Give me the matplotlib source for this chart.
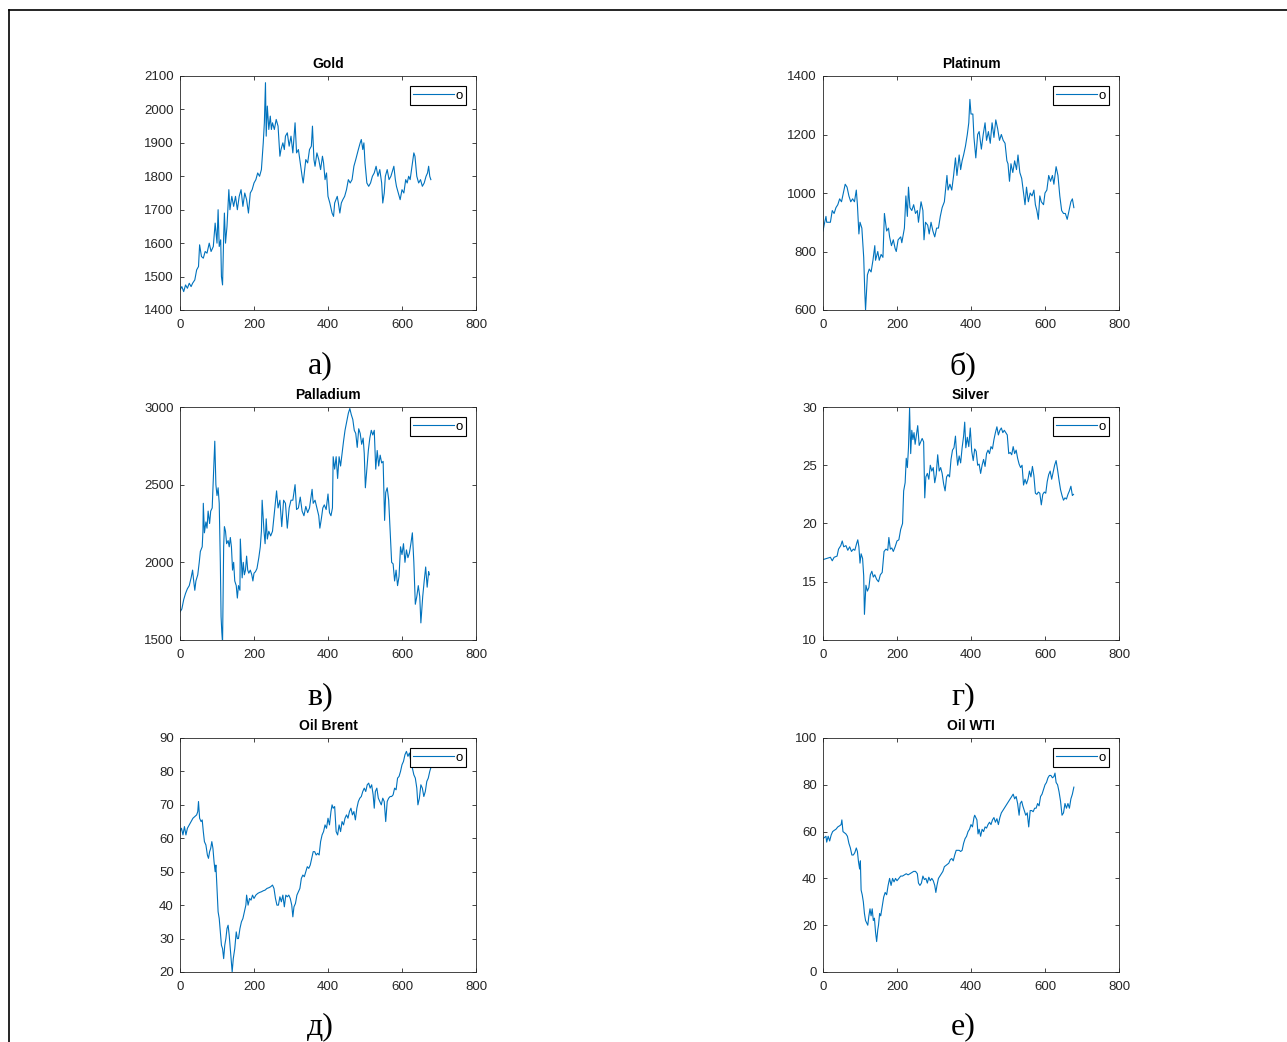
import matplotlib
matplotlib.use("Agg")
import matplotlib.pyplot as plt
from matplotlib.lines import Line2D

# ---- data (index, price) ----
gold_x = [0, 5, 10, 15, 20, 25, 30, 34, 40, 45, 50, 53, 58, 63, 68, 73, 79, 84, 90, 95, 100, 103, 106, 110,
          112, 115, 118, 120, 123, 127, 132, 135, 140, 145, 150, 155, 160, 165, 170, 175, 180, 185, 190, 195,
          200, 205, 210, 215, 220, 225, 228, 231, 233, 236, 240, 244, 247, 250, 255, 260, 265, 270, 273, 278,
          282, 285, 290, 295, 300, 305, 311, 315, 320, 325, 330, 333, 340, 345, 350, 355, 358, 362, 365, 370,
          375, 380, 385, 388, 392, 396, 400, 405, 411, 415, 418, 425, 428, 432, 436, 440, 445, 450, 455, 460,
          465, 470, 475, 482, 487, 490, 494, 497, 500, 505, 510, 515, 520, 525, 530, 535, 540, 545, 548, 552,
          555, 560, 565, 570, 578, 582, 585, 590, 595, 600, 605, 610, 614, 618, 622, 627, 632, 635, 640, 645,
          650, 655, 660, 665, 669, 672, 675, 678]
gold_y = [1460, 1470, 1455, 1475, 1465, 1480, 1470, 1480, 1490, 1520, 1530, 1595, 1560, 1555, 1575, 1570, 1600, 1575, 1590, 1660, 1600, 1700, 1590, 1610,
          1500, 1475, 1620, 1690, 1600, 1650, 1760, 1700, 1740, 1710, 1740, 1700, 1740, 1760, 1710, 1750, 1730, 1690, 1750, 1760,
          1780, 1790, 1810, 1800, 1820, 1900, 1960, 2080, 1920, 2010, 1940, 1980, 1940, 1960, 1940, 1970, 1950, 1860, 1880, 1900,
          1880, 1920, 1930, 1890, 1920, 1870, 1960, 1870, 1880, 1840, 1800, 1780, 1850, 1840, 1880, 1890, 1950, 1850, 1830, 1870,
          1850, 1820, 1860, 1840, 1790, 1810, 1740, 1720, 1690, 1680, 1720, 1740, 1720, 1690, 1720, 1730, 1740, 1760, 1790, 1780,
          1790, 1830, 1850, 1880, 1900, 1910, 1880, 1900, 1840, 1780, 1770, 1780, 1800, 1810, 1830, 1800, 1820, 1780, 1720, 1750,
          1800, 1820, 1790, 1800, 1830, 1790, 1770, 1750, 1730, 1760, 1750, 1790, 1780, 1800, 1790, 1830, 1870, 1860, 1800, 1780,
          1790, 1770, 1780, 1800, 1810, 1830, 1800, 1790]

platinum_x = [0, 3, 8, 10, 20, 25, 30, 35, 40, 45, 50, 55, 60, 65, 70, 75, 80, 85, 90, 93, 97, 100, 105, 110, 113, 115,
              120, 125, 130, 135, 140, 142, 148, 152, 157, 162, 166, 172, 177, 180, 185, 190, 195, 198, 203, 210, 213,
              220, 224, 228, 231, 235, 240, 245, 250, 255, 258, 265, 270, 273, 277, 283, 287, 292, 297, 302, 307, 312,
              317, 322, 328, 335, 338, 343, 348, 353, 358, 362, 368, 372, 376, 380, 385, 390, 394, 397, 400, 405, 408,
              413, 418, 422, 428, 433, 438, 442, 447, 452, 457, 462, 467, 472, 477, 482, 487, 492, 497, 500, 504, 508,
              513, 518, 523, 527, 532, 537, 542, 546, 550, 555, 560, 565, 570, 574, 578, 582, 586, 590, 596, 600, 605,
              610, 615, 620, 624, 630, 635, 640, 645, 650, 655, 660, 665, 670, 674, 678]
platinum_y = [870, 890, 920, 900, 900, 940, 930, 950, 960, 980, 970, 1000, 1030, 1020, 990, 970, 980, 970, 1010, 960, 860, 900, 880, 780, 660, 600,
              720, 740, 730, 770, 820, 770, 800, 770, 790, 780, 930, 870, 880, 850, 820, 840, 810, 800, 840, 850, 830,
              880, 990, 920, 1020, 950, 940, 960, 930, 940, 900, 970, 940, 840, 900, 890, 860, 900, 870, 850, 880, 880,
              920, 950, 970, 1060, 1010, 1030, 1010, 1060, 1120, 1060, 1130, 1080, 1110, 1130, 1160, 1200, 1240, 1320, 1270, 1270, 1190,
              1120, 1200, 1210, 1150, 1200, 1240, 1180, 1210, 1170, 1240, 1190, 1250, 1220, 1180, 1200, 1180, 1170, 1110, 1100, 1040, 1100,
              1070, 1110, 1080, 1130, 1070, 1050, 1000, 960, 1020, 970, 1000, 990, 1010, 960, 940, 910, 990, 970, 960, 1000, 1010,
              1060, 1040, 1060, 1030, 1090, 1060, 990, 940, 930, 930, 910, 940, 970, 980, 950]

palladium_x = [0, 5, 10, 15, 20, 25, 30, 34, 37, 40, 43, 48, 52, 55, 60, 62, 63, 66, 70, 73, 76, 80, 83, 87, 90, 92,
               94, 97, 100, 103, 106, 109, 111, 113, 115, 118, 120, 123, 126, 130, 133, 136, 139, 142, 145, 148, 152,
               155, 158, 162, 163, 168, 171, 174, 177, 180, 183, 186, 190, 194, 197, 200, 204, 208, 213, 217, 220, 222,
               227, 230, 233, 236, 240, 245, 250, 255, 261, 265, 270, 275, 280, 285, 290, 295, 300, 305, 311, 315, 320,
               325, 330, 335, 340, 345, 350, 357, 360, 365, 370, 375, 378, 382, 386, 390, 395, 400, 404, 408, 412, 414,
               418, 422, 426, 430, 434, 438, 442, 446, 450, 455, 459, 463, 467, 471, 475, 479, 483, 487, 491, 495, 498,
               501, 505, 509, 513, 517, 521, 525, 529, 533, 537, 541, 545, 549, 553, 556, 560, 564, 568, 572, 576, 580,
               584, 588, 592, 596, 600, 604, 608, 612, 616, 620, 624, 628, 632, 636, 640, 644, 648, 651, 656, 660, 664,
               668, 672, 674]
palladium_y = [1680, 1700, 1760, 1800, 1830, 1850, 1900, 1950, 1880, 1820, 1880, 1920, 2000, 2070, 2100, 2200, 2380, 2190, 2260, 2220, 2330, 2250, 2330, 2350, 2530, 2650,
               2780, 2500, 2430, 2480, 2380, 2000, 1650, 1550, 1480, 2100, 2230, 2200, 2120, 2140, 2100, 2160, 2100, 1950, 2000, 1880, 1850,
               1770, 1850, 1820, 2150, 1900, 2000, 1920, 1950, 2040, 1950, 1930, 1950, 1920, 1880, 1930, 1940, 1960, 2030, 2100, 2200, 2400,
               2200, 2120, 2280, 2150, 2200, 2170, 2200, 2320, 2460, 2350, 2400, 2230, 2400, 2380, 2220, 2350, 2400, 2400, 2500, 2340, 2350,
               2420, 2330, 2300, 2360, 2320, 2350, 2470, 2380, 2400, 2350, 2300, 2220, 2280, 2350, 2370, 2340, 2440, 2320, 2300, 2350, 2680,
               2600, 2680, 2540, 2680, 2620, 2700, 2780, 2850, 2900, 2960, 2990, 2950, 2920, 2850, 2830, 2740, 2860, 2830, 2760, 2800, 2700,
               2480, 2600, 2720, 2800, 2850, 2820, 2850, 2600, 2720, 2620, 2690, 2640, 2650, 2270, 2450, 2480, 2400, 2200, 2000, 1990, 1880,
               1950, 1850, 1910, 2100, 2050, 2120, 2000, 2080, 2030, 2060, 2120, 2190, 2000, 1730, 1780, 1850, 1780, 1610, 1780, 1880, 1970,
               1840, 1940, 1920]

silver_x = [0, 10, 20, 25, 30, 38, 42, 48, 52, 56, 62, 67, 72, 77, 82, 86, 91, 94, 97, 100, 103, 107, 110, 112, 116,
            120, 124, 128, 132, 136, 140, 145, 150, 155, 160, 165, 170, 175, 178, 182, 186, 190, 195, 200, 205, 210,
            215, 218, 222, 225, 228, 231, 234, 237, 240, 243, 246, 249, 252, 256, 260, 264, 268, 272, 275, 278, 282,
            286, 290, 294, 298, 302, 306, 310, 314, 318, 322, 326, 330, 334, 338, 342, 346, 350, 354, 358, 361, 364,
            368, 372, 376, 380, 383, 386, 390, 394, 398, 402, 406, 410, 414, 418, 422, 426, 430, 434, 438, 442, 446,
            450, 454, 458, 462, 466, 470, 474, 478, 482, 486, 490, 494, 498, 502, 506, 510, 514, 518, 522, 526, 530,
            534, 538, 542, 546, 550, 554, 558, 562, 566, 570, 574, 578, 582, 586, 590, 594, 598, 602, 606, 610, 614,
            618, 622, 626, 630, 634, 638, 642, 646, 650, 654, 658, 662, 666, 670, 674, 677]
silver_y = [16.9, 17.0, 17.1, 16.8, 17.1, 17.2, 17.8, 18.1, 18.5, 18.0, 18.1, 17.7, 18.0, 17.6, 17.8, 17.7, 18.3, 18.6, 18.0, 16.6, 17.4, 17.0, 15.5, 12.2, 14.7,
            14.2, 14.5, 15.6, 15.9, 15.4, 15.6, 15.2, 15.0, 15.6, 15.8, 17.6, 17.8, 17.7, 18.8, 17.8, 17.9, 17.6, 18.0, 18.5, 18.6, 19.5,
            20.0, 22.8, 23.5, 25.6, 24.8, 26.5, 29.9, 26.0, 28.0, 27.2, 27.8, 26.8, 27.5, 28.4, 26.7, 27.0, 27.3, 27.0, 22.2, 24.0, 24.3,
            23.8, 25.0, 24.5, 24.8, 23.5, 24.2, 25.9, 24.5, 24.8, 24.3, 23.4, 22.8, 24.0, 24.2, 24.0, 25.5, 26.3, 26.5, 27.5, 26.0, 25.0,
            25.8, 25.2, 26.5, 27.5, 28.7, 26.5, 27.4, 26.6, 28.2, 26.2, 25.4, 26.4, 26.2, 25.0, 25.1, 24.3, 25.0, 25.5, 24.9, 26.0, 26.3,
            26.0, 26.6, 26.4, 27.2, 27.8, 28.3, 27.6, 28.0, 28.2, 27.8, 28.0, 27.8, 27.6, 26.0, 26.1, 25.9, 26.6, 26.0, 26.3, 25.6, 25.1,
            24.8, 25.0, 23.3, 23.8, 23.4, 23.8, 24.5, 24.0, 24.9, 24.1, 22.6, 22.5, 22.7, 22.6, 21.6, 22.5, 22.7, 22.6, 23.6, 24.2, 24.5,
            23.8, 24.4, 25.0, 25.4, 24.6, 23.7, 22.9, 22.4, 22.0, 22.2, 22.1, 22.5, 22.8, 23.2, 22.4, 22.5]

brent_x = [0, 4, 8, 12, 16, 20, 25, 30, 35, 40, 45, 48, 50, 53, 57, 60, 63, 66, 70, 74, 77, 80, 83, 86, 89, 92, 95,
           97, 100, 103, 106, 109, 112, 115, 118, 121, 124, 127, 130, 133, 136, 139, 141, 144, 148, 152, 155, 158,
           162, 166, 170, 174, 178, 180, 184, 188, 192, 196, 200, 205, 210, 215, 220, 225, 230, 235, 240, 245, 250,
           254, 258, 262, 266, 270, 274, 278, 282, 286, 290, 294, 298, 302, 305, 308, 312, 316, 320, 324, 328, 332,
           336, 340, 344, 348, 352, 356, 360, 364, 368, 372, 376, 380, 384, 388, 392, 396, 400, 404, 408, 411, 414,
           418, 422, 426, 430, 434, 438, 442, 446, 450, 454, 458, 462, 466, 470, 474, 478, 482, 486, 490, 494, 498,
           502, 506, 510, 514, 518, 522, 525, 528, 532, 536, 540, 544, 548, 552, 556, 560, 564, 568, 572, 576, 580,
           584, 588, 592, 596, 600, 604, 608, 612, 616, 620, 624, 628, 632, 636, 640, 643, 647, 651, 655, 659, 663,
           667, 671, 675, 679]
brent_y = [62, 63, 61, 63.5, 61, 63, 64, 65, 66, 66.5, 67, 68, 71, 66, 65, 65.5, 62, 59, 58, 55, 54, 56, 57, 59, 57, 53, 50,
           52, 45, 38, 36, 32, 28, 27, 24, 28, 30, 33, 34, 31, 27, 23, 20, 24, 27, 32, 30, 30,
           33, 35, 36, 38, 40, 43, 40, 42, 41.5, 43, 42, 43, 43.5, 43.8, 44, 44.3, 44.5, 45, 45.2, 45.5, 46,
           45, 42, 40, 40, 42.5, 41, 43, 39.5, 43, 42.5, 43, 42, 40, 36.5, 39.5, 40.5, 43, 44, 45, 48, 49,
           48.5, 50, 51.5, 51, 52, 54, 56, 56, 55, 55.5, 55, 59, 61, 62, 64, 63, 66, 64, 68, 70, 69,
           69.5, 62, 61, 64, 62, 65, 64, 66, 67, 66, 68, 69, 67, 68, 65.5, 69, 71, 72, 72.5, 74, 75,
           74, 76, 76.5, 75, 76, 73, 69, 74, 75, 72, 71, 70, 72, 71, 65, 71, 72, 72.5, 72.5, 73, 75,
           74.5, 78, 78.5, 80, 82, 83, 85, 86, 84.5, 85.5, 83, 81, 79, 78, 75, 70, 72, 76, 75, 72.5, 74,
           77, 78, 80, 81.5]

wti_x = [0, 4, 8, 10, 14, 18, 22, 26, 30, 35, 40, 45, 49, 51, 54, 58, 62, 66, 70, 74, 78, 82, 86, 90, 93, 96, 99,
         101, 103, 106, 109, 112, 115, 118, 121, 124, 127, 130, 133, 136, 139, 142, 145, 148, 150, 153, 156, 160,
         164, 168, 172, 176, 180, 184, 188, 192, 196, 200, 205, 210, 215, 220, 225, 230, 235, 240, 245, 250, 255,
         258, 262, 266, 270, 274, 278, 282, 286, 290, 294, 298, 302, 305, 308, 312, 316, 320, 324, 328, 332, 336,
         340, 344, 348, 352, 356, 360, 364, 368, 372, 376, 380, 384, 388, 392, 396, 400, 404, 408, 410, 413, 416,
         419, 422, 426, 430, 434, 438, 442, 446, 450, 454, 458, 462, 466, 470, 474, 478, 482, 486, 490, 494, 498,
         502, 506, 510, 514, 518, 522, 526, 530, 533, 537, 540, 544, 548, 552, 556, 560, 564, 568, 572, 576, 580,
         584, 588, 592, 596, 600, 604, 608, 612, 616, 620, 624, 627, 630, 634, 638, 642, 646, 650, 654, 658, 662,
         666, 670, 674, 678]
wti_y = [57, 57.5, 58, 55.5, 58, 56, 58.5, 60, 60.5, 61, 62, 62.5, 63, 65, 60, 59.5, 59, 58, 55, 53, 50, 50, 51, 53, 51.5, 47, 44,
         47.5, 35, 33, 30, 25, 22, 21, 20, 24, 27, 24, 27, 22, 23, 17, 13, 18, 20, 25, 24, 28,
         32, 34, 33, 37, 40, 37, 40, 38.5, 40, 39, 40, 41, 41, 41.5, 42, 41.5, 42, 42.5, 43, 43, 42,
         38, 37, 38, 41, 39.5, 40, 38, 40.5, 39, 40, 39, 37, 34, 37, 40, 41, 42, 43, 45, 45.5, 46,
         46.5, 48, 48.5, 47.5, 50, 52, 52, 52, 51.5, 52, 55, 57, 58, 60, 61, 63, 62, 66, 67, 66, 65,
         59, 61, 58, 61, 60, 62, 61.5, 63, 64, 63, 65, 66, 64, 65.5, 63, 66, 68, 69, 70, 71, 72,
         73, 74, 75, 76, 74, 75, 72, 67, 72, 73, 71, 69, 67, 68, 62, 69, 69, 68.5, 70, 70, 72,
         71, 75, 76, 78, 80, 81, 83, 84, 84, 83, 83.5, 85, 81, 80, 77, 73, 67, 68, 72, 70, 72,
         70, 74, 76, 79]

titles = ["Gold", "Platinum", "Palladium", "Silver", "Oil Brent", "Oil WTI"]
letters = ["а)", "б)", "в)", "г)", "д)", "е)"]
series = [(gold_x, gold_y), (platinum_x, platinum_y), (palladium_x, palladium_y),
          (silver_x, silver_y), (brent_x, brent_y), (wti_x, wti_y)]
ylims = [(1400, 2100, 100), (600, 1400, 200), (1500, 3000, 500),
         (10, 30, 5), (20, 90, 10), (0, 100, 20)]

W, H = 1287, 1042
fig = plt.figure(figsize=(W / 100, H / 100), dpi=100)
plt.rcParams['font.family'] = ['Liberation Sans', 'DejaVu Sans']

# page frame (top and left edges)
fig.add_artist(Line2D([9 / W, 1], [1 - 10 / H, 1 - 10 / H], color='black', lw=1.2))
fig.add_artist(Line2D([9 / W, 9 / W], [0, 1 - 10 / H], color='black', lw=1.2))

lefts = [180, 823]
rows = [(76, 310), (407, 640), (738, 972)]
label_y = [366, 697, 1027]
ax_w = 296

for i, (xs, ys) in enumerate(series):
    r, c = divmod(i, 2)
    top, bot = rows[r]
    ax = fig.add_axes([lefts[c] / W, 1 - bot / H, ax_w / W, (bot - top) / H])
    ax.plot(xs, ys, color='#0072BD', lw=0.8, label='o')
    lo, hi, step = ylims[i]
    ax.set_xlim(0, 800)
    ax.set_ylim(lo, hi)
    ax.set_xticks(range(0, 801, 200))
    ax.set_yticks(range(lo, hi + 1, step))
    ax.tick_params(direction='in', length=3, width=0.6, top=True, right=True,
                   labelsize=9.5, colors='#262626')
    ax.tick_params(axis='x', pad=6.5)
    ax.tick_params(axis='y', pad=4.5)
    for s in ax.spines.values():
        s.set_color('#262626')
        s.set_linewidth(0.6)
    ax.set_title(titles[i], fontsize=10, fontweight='bold', pad=5.5)
    leg = ax.legend(loc='upper right', bbox_to_anchor=(1 - 10 / ax_w, 1 - 10 / (bot - top)),
                    borderaxespad=0, fancybox=False, framealpha=1, edgecolor='black',
                    fontsize=9.5, handlelength=3.1, handletextpad=0.1, borderpad=0.25)
    leg.get_frame().set_linewidth(0.8)
    fig.text((lefts[c] + 140) / W, 1 - label_y[r] / H, letters[i], ha='center', va='center',
             fontsize=23, family='Liberation Serif')

fig.savefig('out.png', dpi=100)
